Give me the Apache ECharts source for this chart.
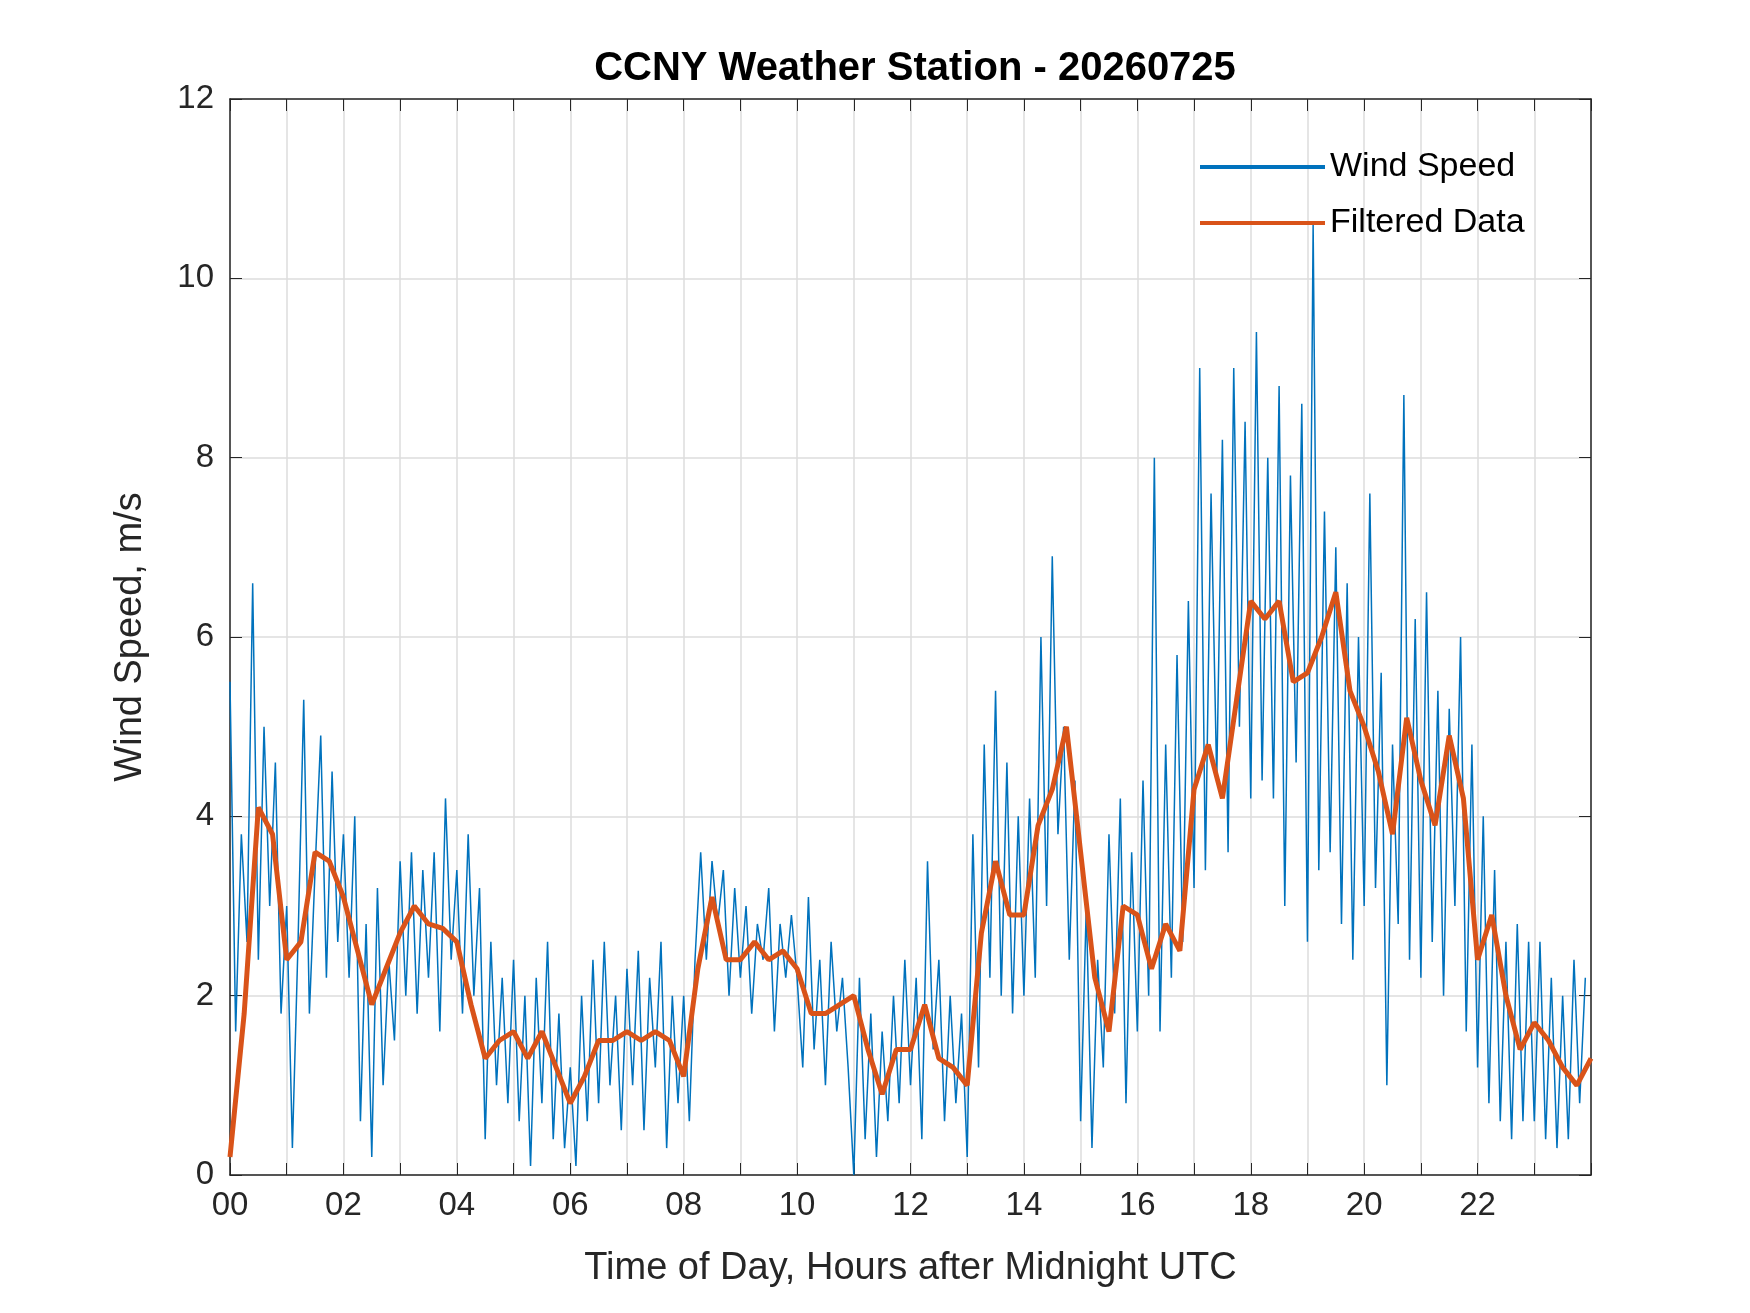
<!DOCTYPE html>
<html lang="en">
<head>
  <meta charset="UTF-8">
  <title>CCNY Weather Station</title>
  <script src="https://cdn.jsdelivr.net/npm/echarts@6/dist/echarts.min.js"></script>
</head>
<body style="margin:0;width:1750px;height:1313px;overflow:hidden;background:#fff;">
  <div id="main" style="width:1750px;height:1313px;"></div>
</body>
<script>
  // raw wind speed, one value every 6 minutes (10 per hour)
  var windSpeed = [
    5.5,1.6,3.8,2.6,6.6,2.4,5.0,3.0,4.6,1.8,
    3.0,0.3,2.6,5.3,1.8,3.4,4.9,2.2,4.5,2.6,
    3.8,2.2,4.0,0.6,2.8,0.2,3.2,1.0,2.4,1.5,
    3.5,2.0,3.6,1.8,3.4,2.2,3.6,1.6,4.2,2.4,
    3.4,1.8,3.8,2.0,3.2,0.4,2.6,1.0,2.2,0.8,
    2.4,0.6,2.0,0.1,2.2,0.8,2.6,0.4,1.8,0.3,
    1.2,0.1,2.0,0.6,2.4,0.8,2.6,1.0,2.0,0.5,
    2.3,1.0,2.5,0.5,2.2,1.2,2.6,0.3,2.0,0.8,
    2.0,0.6,2.4,3.6,2.4,3.5,2.8,3.4,2.0,3.2,
    2.2,3.0,1.8,2.8,2.4,3.2,1.6,2.8,2.2,2.9,
    2.2,1.2,3.1,1.4,2.4,1.0,2.6,1.6,2.2,1.2,
    0.0,2.2,0.4,1.8,0.2,1.6,0.6,2.0,0.8,2.4,
    1.0,2.2,0.4,3.5,1.4,2.4,0.6,2.0,0.8,1.8,
    0.2,3.8,1.2,4.8,2.2,5.4,2.0,4.6,1.8,4.0,
    2.0,4.2,2.2,6.0,3.0,6.9,3.8,5.0,2.4,4.4,
    0.6,3.0,0.3,2.4,1.2,3.8,1.8,4.2,0.8,3.6,
    1.6,4.4,2.0,8.0,1.6,4.8,2.2,5.8,2.6,6.4,
    3.2,9.0,3.4,7.6,4.4,8.2,3.6,9.0,5.0,8.4,
    4.2,9.4,4.4,8.0,4.2,8.8,3.0,7.8,4.6,8.6,
    2.6,10.6,3.4,7.4,3.6,7.0,2.8,6.6,2.4,6.0,
    3.0,7.6,3.2,5.6,1.0,4.8,2.8,8.7,2.4,6.2,
    2.2,6.5,2.6,5.4,2.0,5.2,3.0,6.0,1.6,4.8,
    1.2,4.0,0.8,3.4,0.6,2.6,0.4,2.8,0.6,2.6,
    0.6,2.6,0.4,2.2,0.3,2.0,0.4,2.4,0.8,2.2
  ];
  var rawStep = 0.1; // hours

  // filtered data, one value every 15 minutes
  var filtered = [
    0.2,1.8,4.1,3.8,
    2.4,2.6,3.6,3.5,
    3.1,2.5,1.9,2.3,
    2.7,3.0,2.8,2.75,
    2.6,1.9,1.3,1.5,
    1.6,1.3,1.6,1.2,
    0.8,1.1,1.5,1.5,
    1.6,1.5,1.6,1.5,
    1.1,2.3,3.1,2.4,
    2.4,2.6,2.4,2.5,
    2.3,1.8,1.8,1.9,
    2.0,1.4,0.9,1.4,
    1.4,1.9,1.3,1.2,
    1.0,2.7,3.5,2.9,
    2.9,3.9,4.3,5.0,
    3.6,2.2,1.6,3.0,
    2.9,2.3,2.8,2.5,
    4.3,4.8,4.2,5.3,
    6.4,6.2,6.4,5.5,
    5.6,6.0,6.5,5.4,
    5.0,4.5,3.8,5.1,
    4.4,3.9,4.9,4.2,
    2.4,2.9,2.0,1.4,
    1.7,1.5,1.2,1.0,
    1.3
  ];
  var filtStep = 0.25;

  var xLabels = ['00','02','04','06','08','10','12','14','16','18','20','22'];

  var rawPts = windSpeed.map(function (v, i) { return [i * rawStep, v]; });
  var filtPts = filtered.map(function (v, i) { return [i * filtStep, v]; });

  var fontFam = 'Liberation Sans, Arial, sans-serif';
  var axisCol = '#262626';
  var myChart = echarts.init(document.getElementById('main'));

  function frameAxis(pos, max, interval) {
    return {
      type: 'value', min: 0, max: max, interval: interval, position: pos,
      axisLine: { show: true, onZero: false, lineStyle: { color: axisCol, width: 1.5 } },
      axisTick: { show: true, inside: true, length: 12, lineStyle: { color: axisCol } },
      axisLabel: { show: false }, splitLine: { show: false }
    };
  }

  var option = {
    backgroundColor: '#fff',
    animation: false,
    title: {
      text: 'CCNY Weather Station - 20260725',
      left: 910, top: 44, textAlign: 'center',
      textStyle: { fontFamily: fontFam, fontSize: 40, fontWeight: 'bold', color: '#000' }
    },
    legend: {
      left: 1195, top: 145, orient: 'vertical', itemGap: 22,
      itemWidth: 125, itemHeight: 4, icon: 'rect',
      textStyle: { fontFamily: fontFam, fontSize: 34, color: '#000' },
      data: ['Wind Speed', 'Filtered Data']
    },
    grid: { left: 230, right: 159, top: 99, bottom: 138 },
    xAxis: [{
      type: 'value', min: 0, max: 24, interval: 1, position: 'bottom',
      name: 'Time of Day, Hours after Midnight UTC', nameLocation: 'middle', nameGap: 75,
      nameTextStyle: { fontFamily: fontFam, fontSize: 38, color: axisCol },
      axisLine: { onZero: false, lineStyle: { color: axisCol, width: 1.5 } },
      axisTick: { inside: true, length: 12, lineStyle: { color: axisCol } },
      axisLabel: {
        fontFamily: fontFam, fontSize: 33, color: axisCol, margin: 14,
        formatter: function (v) { return (v % 2 === 0 && v < 24) ? xLabels[v / 2] : ''; }
      },
      splitLine: { show: true, lineStyle: { color: '#dcdcdc', width: 1.5 } }
    }, frameAxis('top', 24, 1)],
    yAxis: [{
      type: 'value', min: 0, max: 12, interval: 2, position: 'left',
      name: 'Wind Speed, m/s', nameLocation: 'middle', nameGap: 80,
      nameTextStyle: { fontFamily: fontFam, fontSize: 38, color: axisCol },
      axisLine: { show: true, onZero: false, lineStyle: { color: axisCol, width: 1.5 } },
      axisTick: { inside: true, length: 12, lineStyle: { color: axisCol } },
      axisLabel: { fontFamily: fontFam, fontSize: 33, color: axisCol, margin: 16 },
      splitLine: { show: true, lineStyle: { color: '#dcdcdc', width: 1.5 } }
    }, frameAxis('right', 12, 2)],
    series: [{
      name: 'Wind Speed', type: 'line', data: rawPts, showSymbol: false,
      lineStyle: { color: '#0072BD', width: 1.5 }, itemStyle: { color: '#0072BD' }
    }, {
      name: 'Filtered Data', type: 'line', data: filtPts, showSymbol: false,
      lineStyle: { color: '#D95319', width: 5 }, itemStyle: { color: '#D95319' }
    }]
  };
  myChart.setOption(option);
</script>
</html>
